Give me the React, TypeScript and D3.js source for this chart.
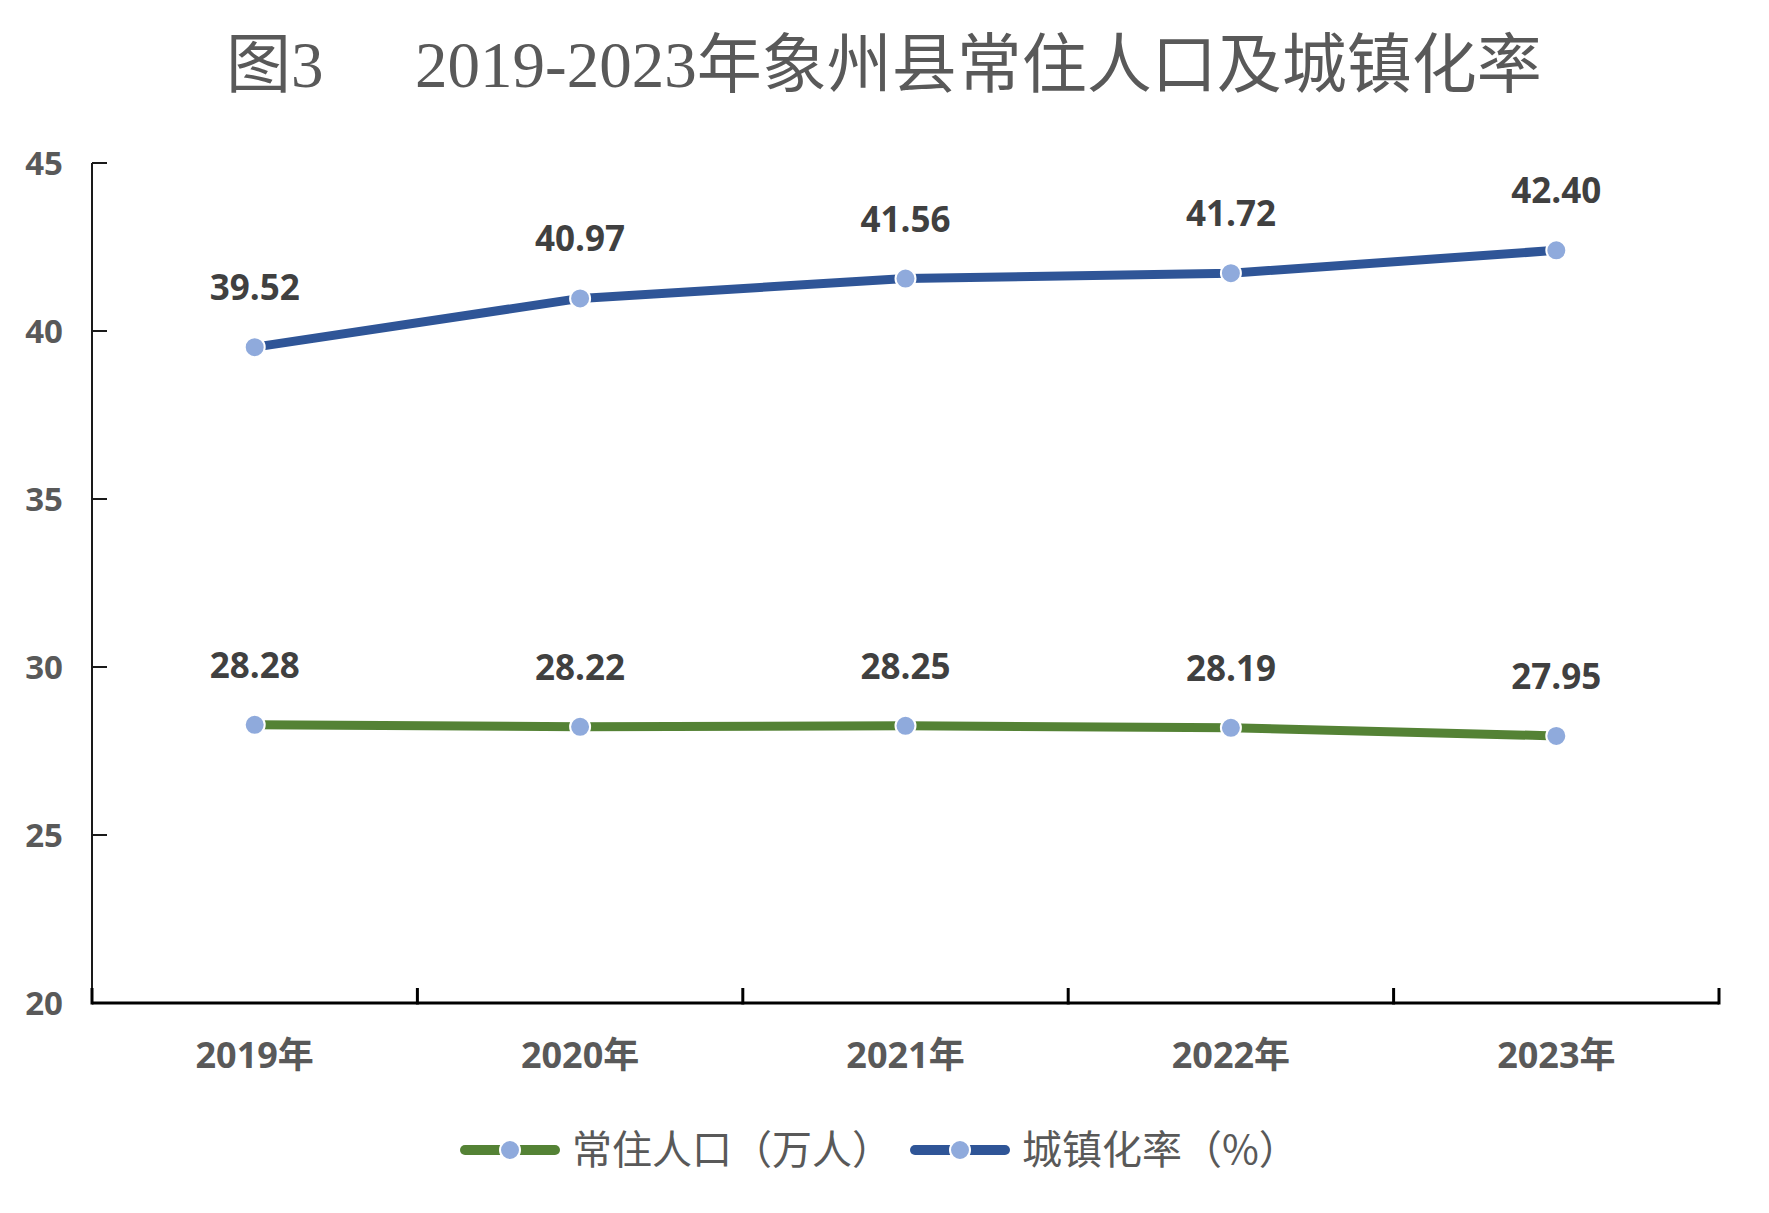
import { useRef, useEffect } from 'react';
import * as d3 from 'd3';

const years = ['2019年', '2020年', '2021年', '2022年', '2023年'];
const population = [28.28, 28.22, 28.25, 28.19, 27.95];
const urbanRate = [39.52, 40.97, 41.56, 41.72, 42.4];
const yTicks = [20, 25, 30, 35, 40, 45];
const seriesNames = ['常住人口（万人）', '城镇化率（%）'];
const seriesColors = ['#548235', '#2f5597'];

const W = 1769;
const H = 1213;
const latin = "'Open Sans', 'Noto Sans CJK SC', sans-serif";
const cjk = "'Noto Sans CJK SC', sans-serif";

function Chart() {
  const svgRef = useRef<SVGSVGElement>(null);

  useEffect(() => {
    const svg = d3.select(svgRef.current);
    svg.selectAll('*').remove();

    const pad = { top: 163, right: 50, bottom: 210, left: 92 };
    const x = d3.scaleBand<string>().domain(years).range([pad.left, W - pad.right]);
    const y = d3.scaleLinear().domain([20, 45]).range([H - pad.bottom, pad.top]);
    const cx = (d: string) => (x(d) ?? 0) + x.bandwidth() / 2;

    svg.append('rect').attr('width', W).attr('height', H).attr('fill', '#fff');

    // Title
    const title = svg.append('text')
      .attr('x', 226).attr('y', 87)
      .attr('fill', '#595959')
      .attr('font-size', 65)
      .attr('font-family', "'Liberation Serif', 'Noto Sans CJK SC', serif");
    title.append('tspan').text('图3');
    title.append('tspan').attr('x', 415).text('2019-2023年象州县常住人口及城镇化率');

    // Y axis
    const y0 = y(20);
    svg.append('line')
      .attr('x1', pad.left).attr('x2', pad.left)
      .attr('y1', y(45)).attr('y2', y0)
      .attr('stroke', '#1a1a1a').attr('stroke-width', 2);
    svg.append('g').selectAll('line').data(yTicks.filter(t => t > 20)).join('line')
      .attr('x1', pad.left).attr('x2', pad.left + 15)
      .attr('y1', d => y(d)).attr('y2', d => y(d))
      .attr('stroke', '#1a1a1a').attr('stroke-width', 2);
    svg.append('g').selectAll('text').data(yTicks).join('text')
      .attr('x', 63).attr('y', d => y(d) + 12)
      .attr('text-anchor', 'end')
      .attr('fill', '#595959')
      .attr('font-size', 33).attr('font-weight', 'bold')
      .attr('font-family', latin)
      .text(d => d);

    // X axis
    svg.append('line')
      .attr('x1', pad.left).attr('x2', W - pad.right)
      .attr('y1', y0).attr('y2', y0)
      .attr('stroke', '#000').attr('stroke-width', 3);
    const bounds = [...years.map(d => x(d) ?? 0), x.range()[1]];
    svg.append('g').selectAll('line').data(bounds).join('line')
      .attr('x1', d => d).attr('x2', d => d)
      .attr('y1', y0 + 1.5).attr('y2', y0 - 15)
      .attr('stroke', '#000').attr('stroke-width', 3);
    svg.append('g').selectAll('text').data(years).join('text')
      .attr('x', d => cx(d)).attr('y', 1068)
      .attr('text-anchor', 'middle')
      .attr('fill', '#595959')
      .attr('font-size', 36).attr('font-weight', 'bold')
      .attr('font-family', latin)
      .text(d => d);

    // Series
    const series = [population, urbanRate];
    const line = d3.line<number>()
      .x((_, i) => cx(years[i]))
      .y(d => y(d));

    series.forEach((vals, si) => {
      svg.append('path').datum(vals)
        .attr('d', line).attr('fill', 'none')
        .attr('stroke', seriesColors[si]).attr('stroke-width', 9)
        .attr('stroke-linejoin', 'round');
      svg.append('g').selectAll('circle').data(vals).join('circle')
        .attr('cx', (_, i) => cx(years[i])).attr('cy', d => y(d))
        .attr('r', 10)
        .attr('fill', '#8faadc').attr('stroke', '#fff').attr('stroke-width', 2);
      svg.append('g').selectAll('text').data(vals).join('text')
        .attr('x', (_, i) => cx(years[i])).attr('y', d => y(d) - 47)
        .attr('text-anchor', 'middle')
        .attr('fill', '#404040')
        .attr('font-size', 35).attr('font-weight', 'bold')
        .attr('font-family', latin)
        .text(d => d.toFixed(2));
    });

    // Legend
    const legendX = [460, 910];
    const ly = 1150;
    seriesNames.forEach((name, si) => {
      const lx = legendX[si];
      const g = svg.append('g');
      g.append('line')
        .attr('x1', lx + 5).attr('x2', lx + 95)
        .attr('y1', ly).attr('y2', ly)
        .attr('stroke', seriesColors[si]).attr('stroke-width', 10)
        .attr('stroke-linecap', 'round');
      g.append('circle')
        .attr('cx', lx + 50).attr('cy', ly).attr('r', 10)
        .attr('fill', '#8faadc').attr('stroke', '#fff').attr('stroke-width', 2);
      g.append('text')
        .attr('x', lx + 112).attr('y', 1164)
        .attr('fill', '#595959')
        .attr('font-size', 40)
        .attr('font-family', cjk)
        .text(name);
    });
  }, []);

  return <svg ref={svgRef} width={W} height={H} style={{ display: 'block' }} />;
}

export default function App() {
  return (
    <div style={{ position: 'absolute', left: 0, top: 0, background: '#fff' }}>
      <Chart />
    </div>
  );
}
